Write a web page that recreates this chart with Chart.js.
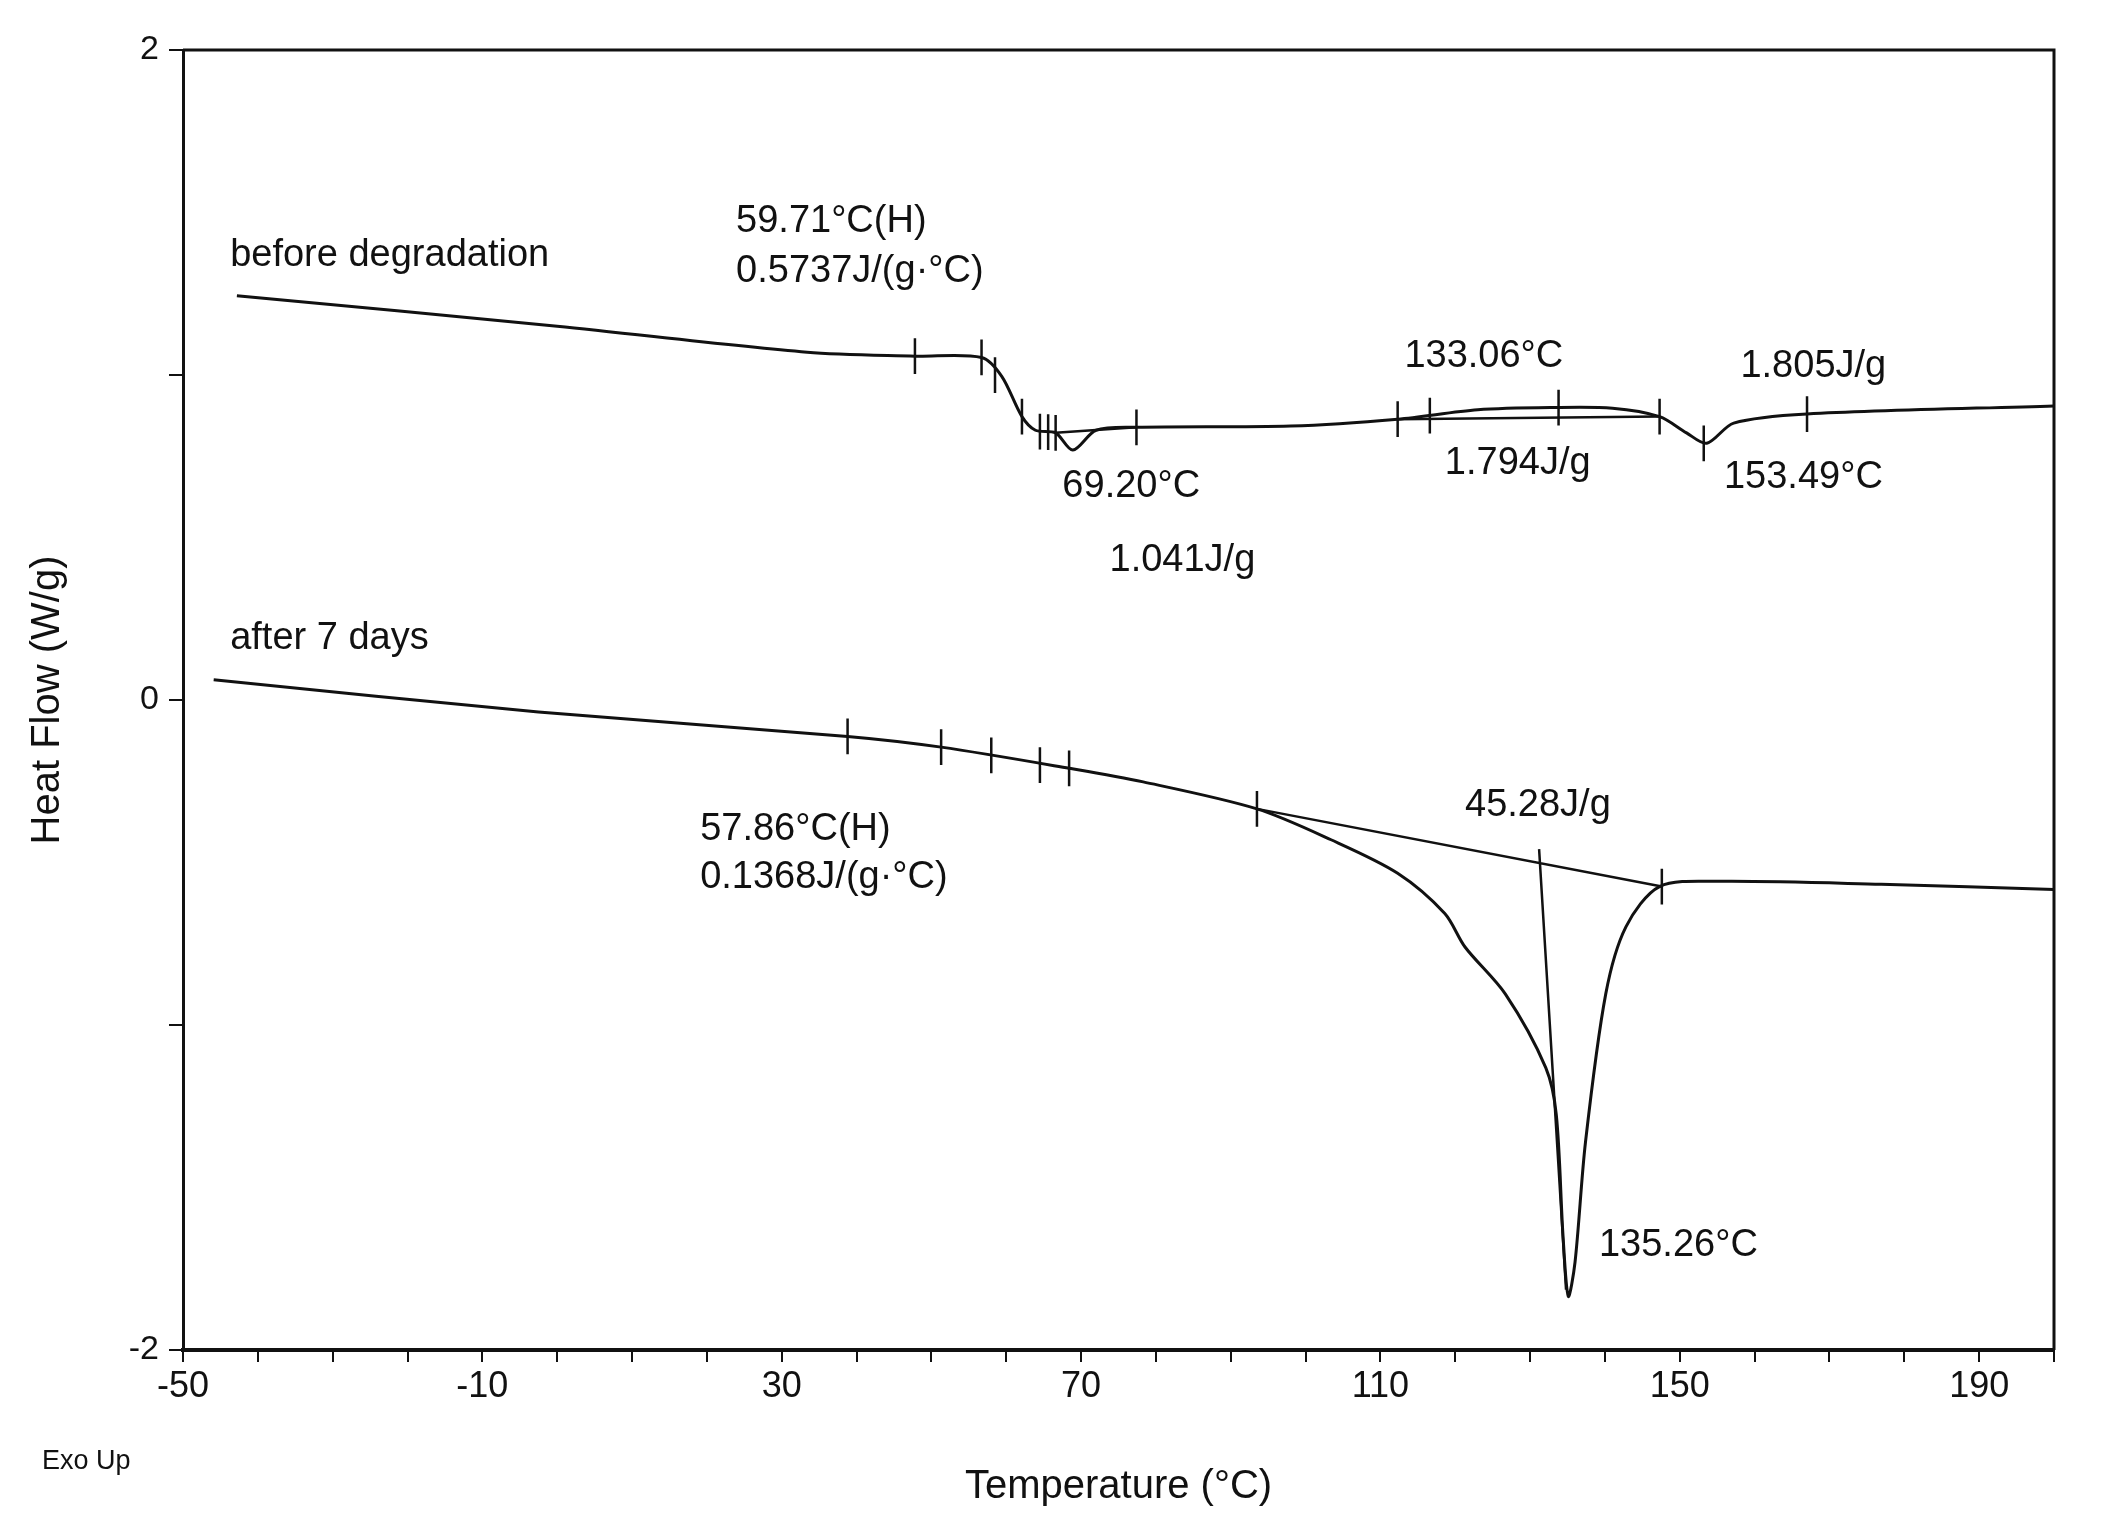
<!DOCTYPE html>
<html>
<head>
<meta charset="utf-8">
<script src="https://cdn.jsdelivr.net/npm/chart.js@4/dist/chart.umd.min.js"></script>
<style>
  html, body { margin: 0; padding: 0; background: #fff; }
  #wrap { width: 2104px; height: 1515px; }
</style>
</head>
<body>
<div id="wrap"><canvas id="dsc"></canvas></div>
<script>
// curve before degradation (temperature °C, heat flow W/g)
const beforeT = [-42.8, 0, 33.4, 47.8, 56.7, 59.4, 62.1, 63.9, 66.6, 68.9, 72, 77.4, 98, 112.3, 123, 132.9, 141, 147.3, 150.9, 153.6, 157.2, 167, 200];
const beforeHF = [1.244, 1.15, 1.07, 1.058, 1.054, 0.996, 0.872, 0.83, 0.822, 0.769, 0.83, 0.839, 0.843, 0.864, 0.893, 0.90, 0.898, 0.872, 0.822, 0.79, 0.852, 0.88, 0.905];
// curve after 7 days
const afterT = [-45.9, -2.5, 38.8, 51.3, 68.4, 78.3, 93.5, 103.4, 112.3, 118.6, 121.3, 126.7, 132.1, 133.5, 134.4, 135.1, 136, 137.4, 140.1, 142.8, 147.3, 155.4, 176.9, 200];
const afterHF = [0.062, -0.037, -0.112, -0.145, -0.21, -0.252, -0.335, -0.43, -0.533, -0.657, -0.76, -0.905, -1.132, -1.277, -1.65, -1.835, -1.73, -1.36, -0.905, -0.698, -0.574, -0.558, -0.567, -0.583];
// integration baselines
const baseT = [[66.6, 77.4], [112.3, 147.3], [93.5, 147.6], [131.2, 134.8]];
const baseHF = [[0.822, 0.839], [0.864, 0.872], [-0.335, -0.574], [-0.459, -1.814]];
// event markers on the curves
const markT = [47.8, 56.7, 58.5, 62.1, 64.5, 65.6, 66.6, 77.4, 112.3, 116.6, 133.8, 147.3, 153.2, 167, 38.8, 51.3, 58, 64.5, 68.4, 93.5, 147.6];
const markHF = [1.058, 1.054, 1.0, 0.872, 0.826, 0.824, 0.822, 0.839, 0.864, 0.875, 0.90, 0.872, 0.79, 0.88, -0.112, -0.145, -0.17, -0.2, -0.21, -0.335, -0.574];
// annotation texts
const noteText = ['before degradation', '59.71°C(H)', '0.5737J/(g·°C)', '133.06°C', '1.805J/g', '69.20°C', '1.794J/g', '153.49°C', '1.041J/g',
  'after 7 days', '57.86°C(H)', '0.1368J/(g·°C)', '45.28J/g', '135.26°C'];
const noteT = [-43.7, 23.9, 23.9, 113.2, 158.1, 67.5, 118.6, 155.9, 73.8, -43.7, 19.1, 19.1, 121.3, 139.2];
const noteHF = [1.368, 1.471, 1.318, 1.058, 1.025, 0.657, 0.727, 0.686, 0.43, 0.19, -0.397, -0.545, -0.326, -1.678];

const xMin = -50, xMax = 200, yMin = -2, yMax = 2;

function pts(xs, ys) { return xs.map((x, i) => ({ x: x, y: ys[i] })); }

const segPts = [];
baseT.forEach((b, i) => {
    segPts.push({ x: b[0], y: baseHF[i][0] }, { x: b[1], y: baseHF[i][1] }, { x: null, y: null });
});
const markPts = [];
markT.forEach((t, i) => {
    markPts.push({ x: t, y: markHF[i] + 0.055 }, { x: t, y: markHF[i] - 0.055 }, { x: null, y: null });
});

const lineStyle = { showLine: true, borderColor: '#111', borderWidth: 3, pointRadius: 0, tension: 0.3, spanGaps: false };

// frame, notes and "Exo Up"
const extras = {
    id: 'extras',
    afterDraw(chart) {
        const { ctx, chartArea: a, scales: { x, y } } = chart;
        ctx.save();
        ctx.strokeStyle = '#111';
        ctx.lineWidth = 3;
        ctx.beginPath();
        ctx.moveTo(a.left, a.top); ctx.lineTo(a.right, a.top); ctx.lineTo(a.right, a.bottom);
        ctx.stroke();
        ctx.fillStyle = '#111';
        ctx.font = '38px "Liberation Sans", Arial, sans-serif';
        ctx.textBaseline = 'middle';
        noteText.forEach((t, i) => ctx.fillText(t, x.getPixelForValue(noteT[i]), y.getPixelForValue(noteHF[i])));
        ctx.font = '27px "Liberation Sans Narrow", "Liberation Sans", Arial, sans-serif';
        ctx.fillText('Exo Up', 42, 1462);
        ctx.restore();
    }
};

new Chart(document.getElementById('dsc'), {
    type: 'scatter',
    data: {
        datasets: [
            Object.assign({ label: 'before degradation', data: pts(beforeT, beforeHF) }, lineStyle),
            Object.assign({ label: 'after 7 days', data: pts(afterT, afterHF) }, lineStyle),
            Object.assign({ label: 'baselines', data: segPts }, lineStyle, { tension: 0, borderWidth: 2.5 }),
            Object.assign({ label: 'markers', data: markPts }, lineStyle, { tension: 0, borderWidth: 2.5 })
        ]
    },
    options: {
        responsive: true,
        maintainAspectRatio: false,
        animation: false,
        layout: { padding: { left: 20, top: 50, right: 50, bottom: 0 } },
        plugins: { legend: { display: false }, tooltip: { enabled: false } },
        scales: {
            x: {
                type: 'linear', min: xMin, max: xMax,
                afterBuildTicks: s => { s.ticks = []; for (let v = -50; v <= 200; v += 10) s.ticks.push({ value: v }); },
                afterFit: s => { s.height = 165; },
                border: { color: '#111', width: 4 },
                grid: { drawOnChartArea: false, tickLength: 12, color: '#111', lineWidth: 2 },
                ticks: {
                    autoSkip: false, maxRotation: 0, color: '#111',
                    font: { family: '"Liberation Sans Narrow", "Liberation Sans", Arial', size: 36 },
                    callback: v => ((v + 50) % 40 === 0 && v <= 190) ? String(v) : ''
                },
                title: { display: true, text: 'Temperature (°C)', color: '#111', padding: { top: 22 },
                    font: { family: '"Liberation Sans", Arial', size: 40 } }
            },
            y: {
                type: 'linear', min: yMin, max: yMax,
                afterFit: s => { s.width = 163; },
                border: { color: '#111', width: 3 },
                grid: { drawOnChartArea: false, tickLength: 14, color: '#111', lineWidth: 2 },
                ticks: {
                    stepSize: 1, color: '#111', padding: 10,
                    font: { family: '"Liberation Sans", Arial', size: 34 },
                    callback: v => (v % 2 === 0) ? String(v) : ''
                },
                title: { display: true, text: 'Heat Flow (W/g)', color: '#111', padding: { bottom: 30 },
                    font: { family: '"Liberation Sans", Arial', size: 40 } }
            }
        }
    },
    plugins: [extras]
});
</script>
</body>
</html>
